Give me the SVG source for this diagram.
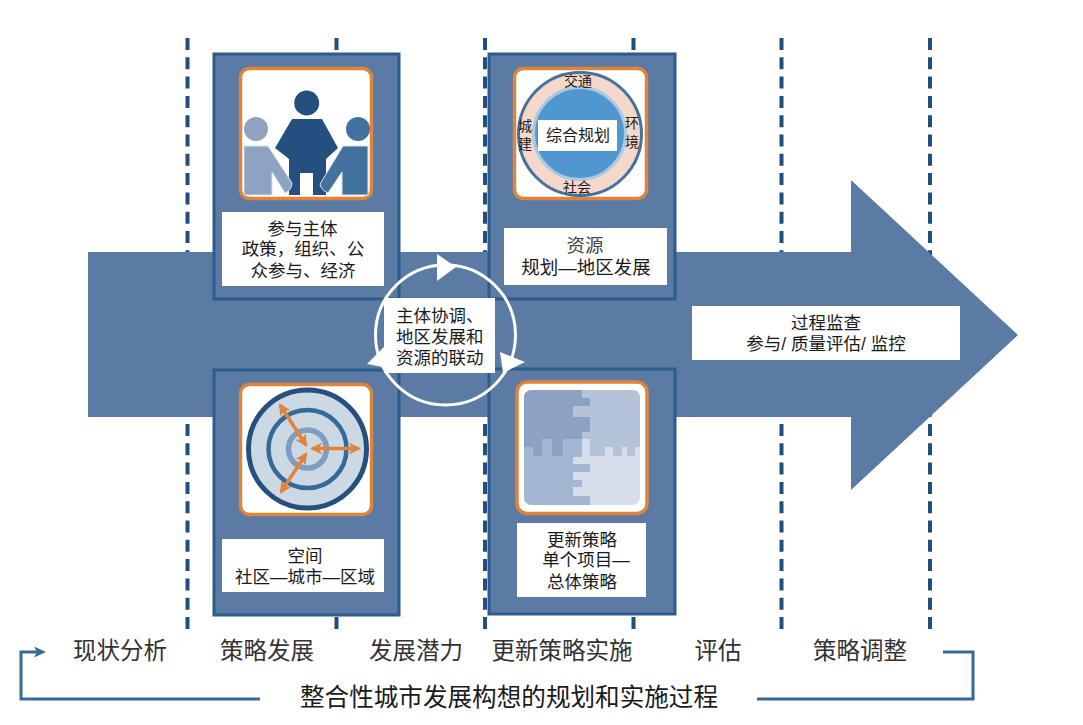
<svg xmlns="http://www.w3.org/2000/svg" width="1083" height="725" viewBox="0 0 1083 725">
<style>
text{font-family:"Liberation Sans","Noto Sans CJK SC",sans-serif;fill:#1a1a1a;text-anchor:middle}
.t17{font-size:17.500px}.t18{font-size:18.500px}.t16{font-size:16px}.t14{font-size:14px}.t23{font-size:23.500px;fill:#333}.t24{font-size:24.600px}
.start{text-anchor:start}
.grey{fill:#444}
.panel{fill:#5b7ba5;stroke:#2a5d8c;stroke-width:3}
.frame{fill:#fff;stroke:#e0843a;stroke-width:3.500}
.lab{fill:#fff}
.dash{stroke:#1f4f7f;stroke-width:4;stroke-dasharray:12 7.300;fill:none}
.conn{stroke:#356a98;stroke-width:3;fill:none}
.oa{stroke:#e0843a;stroke-width:3.500;fill:none;marker-start:url(#oh);marker-end:url(#oh)}
.side{stroke:#d8e2ee;stroke-width:1;stroke-linejoin:round}
</style>
<defs>
<marker id="oh" viewBox="0 0 12 12" refX="10" refY="6" markerWidth="12" markerHeight="12" markerUnits="userSpaceOnUse" orient="auto-start-reverse"><path d="M0 0L12 6L0 12L3 6Z" fill="#e0843a"/></marker>
</defs>
<rect width="1083" height="725" fill="#fff"/>
<g id="connectors">
<path class="dash" d="M187.500 38V633"/><path class="dash" d="M336.500 38V633"/><path class="dash" d="M485 38V633"/><path class="dash" d="M633.500 38V633"/><path class="dash" d="M781.500 38V633"/><path class="dash" d="M930 38V633"/>
<path class="conn" d="M260 699H21V652H40"/><path d="M34 646.500L46 652L34 657.500L37 652Z" fill="#356a98"/>
<path class="conn" d="M757 699H973V652H943"/>
</g>
<g id="arrow"><path d="M88 252H851V180L1018 335L851 490V417H88Z" fill="#5b7ba5"/></g>
<g id="n-participants">
<rect class="panel" x="214" y="54" width="185" height="245"/>
<rect class="frame" x="240.500" y="68.500" width="131" height="130" rx="9"/>
<circle cx="306.700" cy="103" r="12.500" fill="#244f7f"/>
<path d="M292 119H322L338 148L326 159V195H313V173H300V195H289V159L275 148Z" fill="#244f7f"/>
<circle cx="256" cy="129" r="12" fill="#8da3c1"/>
<path class="side" d="M244 146H268L292 183Q292 190 285 193L272 172V195H244Z" fill="#8da3c1"/>
<circle cx="358" cy="129" r="12" fill="#44729f"/>
<path class="side" d="M343 146H368V195H342V172L328 193Q321 190 320 184Z" fill="#44729f"/>
<rect class="lab" x="222" y="212" width="162" height="74"/>
<text class="t17" x="302.500" y="235">参与主体</text><text class="t17" x="303" y="255">政策，组织、公</text><text class="t17" x="303" y="277">众参与、经济</text>
</g>
<g id="n-resources">
<rect class="panel" x="489" y="54" width="186" height="245"/>
<rect class="frame" x="514.500" y="68.500" width="132" height="130" rx="9"/>
<circle cx="580" cy="134" r="61.500" fill="#f6d8ca" stroke="#44729f" stroke-width="3"/>
<circle cx="579.500" cy="133.500" r="46" fill="#5197cf" stroke="#a8cbe3" stroke-width="3"/>
<rect class="lab" x="538" y="120" width="79" height="31"/>
<text class="t16" x="578" y="141">综合规划</text>
<text class="t14" x="578" y="86">交通</text><text class="t14" x="577" y="192">社会</text>
<text class="t14" x="525" y="131">城</text><text class="t14" x="525" y="149">建</text>
<text class="t14" x="632" y="128">环</text><text class="t14" x="632" y="147">境</text>
<rect class="lab" x="504" y="228" width="163" height="57"/>
<text class="t18 grey" x="585" y="252">资源</text><text class="t18" x="586" y="274">规划—地区发展</text>
</g>
<g id="n-space">
<rect class="panel" x="214" y="370" width="185" height="245"/>
<rect class="frame" x="240.500" y="384.500" width="131" height="130" rx="9"/>
<circle cx="307.500" cy="449" r="59" fill="#cdd8e5" stroke="#244f7f" stroke-width="5"/>
<circle cx="307.500" cy="449" r="39" fill="none" stroke="#356a98" stroke-width="4.500"/>
<circle cx="307.500" cy="449" r="19" fill="none" stroke="#7d9ec0" stroke-width="5.500"/>
<path class="oa" d="M280 405L306 445"/><path class="oa" d="M312 448.500H359"/><path class="oa" d="M306 454L281 492"/>
<rect class="lab" x="222" y="539" width="162" height="53"/>
<text class="t17" x="305" y="562">空间</text><text class="t17" x="305" y="583">社区—城市—区域</text>
</g>
<g id="n-strategy">
<rect class="panel" x="489" y="369" width="186" height="245"/>
<rect x="517" y="382" width="130" height="131.500" rx="10" fill="#fff" stroke="#e0843a" stroke-width="3.500"/>
<rect x="524" y="390" width="116" height="115" rx="8" fill="#d6deeb"/>
<path d="M573 390H632Q640 390 640 398V447H635V456H627V447H622V456H613V447H605V456H590V439H573Z" fill="#b4c3d8"/>
<path d="M524 439H582V457H573V464H590V472H573V480H582V487H573V496H590V505H532Q524 505 524 497Z" fill="#a4b7d2"/>
<path d="M532 390H582V398H590V406H573V417H590V432H582V439H563V456H552V439H542V456H533V447H524V398Q524 390 532 390Z" fill="#8ba2c2"/>
<rect class="lab" x="517" y="523" width="129" height="74"/>
<text class="t17" x="582" y="546">更新策略</text><text class="t17" x="586" y="566">单个项目—</text><text class="t17" x="582" y="588">总体策略</text>
</g>
<g id="n-cycle">
<circle cx="445.500" cy="335" r="70" fill="none" stroke="#fff" stroke-width="3"/>
<path d="M437 254L456 267L437 281Z" fill="#fff"/><path d="M500 352L525 362L503 373Z" fill="#fff"/><path d="M367 364L384 347L388 368Z" fill="#fff"/>
<rect class="lab" x="384" y="298" width="111" height="75"/>
<text class="t17 start" x="396" y="322">主体协调、</text><text class="t17 start" x="396" y="343">地区发展和</text><text class="t17 start" x="396" y="364">资源的联动</text>
</g>
<g id="n-monitor">
<rect class="lab" x="692" y="306" width="268" height="54"/>
<text class="t17" x="826" y="329">过程监查</text><text class="t17" x="826" y="350">参与/ 质量评估/ 监控</text>
</g>
<g id="stages">
<text class="t23" x="120" y="659">现状分析</text><text class="t23" x="267" y="659">策略发展</text><text class="t23" x="416" y="659">发展潜力</text><text class="t23" x="562" y="659">更新策略实施</text><text class="t23" x="718" y="659">评估</text><text class="t23" x="860" y="659">策略调整</text>
</g>
<text class="t24" x="509" y="706">整合性城市发展构想的规划和实施过程</text>
</svg>
